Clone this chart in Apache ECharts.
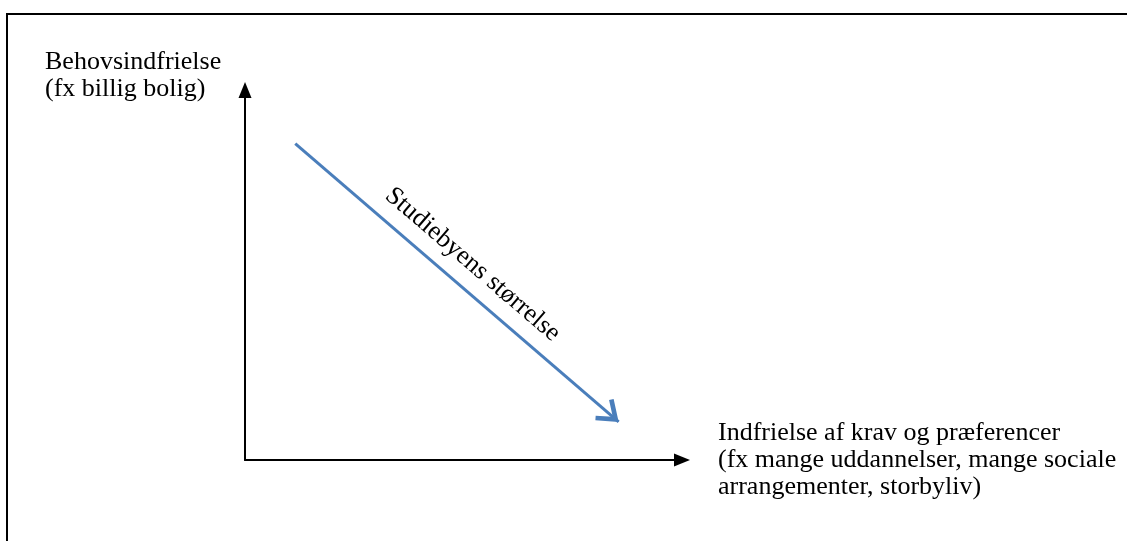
<!DOCTYPE html>
<html>
<head>
<meta charset="utf-8">
<script src="https://cdn.jsdelivr.net/npm/echarts@6/dist/echarts.min.js"></script>
<style>
html,body{margin:0;padding:0;background:#fff;}
#chart{width:1127px;height:541px;}
</style>
</head>
<body>
<div id="chart"></div>
<script>
// ---- data ----
const yAxisTitle = ['Behovsindfrielse', '(fx billig bolig)'];
const xAxisTitle = ['Indfrielse af krav og præferencer', '(fx mange uddannelser, mange sociale', 'arrangementer, storbyliv)'];
const arrowLabel = 'Studiebyens størrelse';
const arrowStart = [1.15, 8.55];
const arrowEnd = [8.55, 1.03];
const axisMin = 0;
const axisMax = 10;

// ---- styles ----
const FONT = '"Liberation Serif", "Times New Roman", serif';
const BLUE = '#4A7EBB';
const chevron = 'path://M12,0 L24,16 L20.8,18.4 L12,6.7 L3.2,18.4 L0,16 Z';

const chart = echarts.init(document.getElementById('chart'), null, {renderer: 'canvas'});

const axisCommon = {
  type: 'value',
  min: axisMin,
  max: axisMax,
  axisLine: {
    show: true,
    onZero: false,
    lineStyle: {color: '#000', width: 2},
    symbol: ['none', 'triangle'],
    symbolSize: [13, 16]
  },
  axisTick: {show: false},
  axisLabel: {show: false},
  splitLine: {show: false}
};

chart.setOption({
  animation: false,
  backgroundColor: '#fff',
  grid: {left: 245, right: 445, top: 90, bottom: 81, containLabel: false, outerBoundsMode: 'none'},
  xAxis: Object.assign({}, axisCommon, {
    name: xAxisTitle.join('\n'),
    nameLocation: 'end',
    nameGap: 36,
    nameTextStyle: {
      fontFamily: FONT, fontSize: 26, color: '#000', lineHeight: 27,
      align: 'left', verticalAlign: 'middle', padding: [0, 0, 6, 0]
    }
  }),
  yAxis: Object.assign({}, axisCommon),
  graphic: [
    {
      type: 'rect', silent: true, z: -1,
      shape: {x: 7, y: 14, width: 1300, height: 700},
      style: {fill: 'none', stroke: '#000', lineWidth: 2}
    },
    {
      type: 'text', silent: true,
      x: 45, y: 49,
      style: {
        text: yAxisTitle.join('\n'),
        font: '26px ' + FONT,
        fill: '#000',
        lineHeight: 27,
        textAlign: 'left',
        textVerticalAlign: 'top'
      }
    }
  ],
  series: [{
    type: 'line',
    data: [],
    silent: true,
    markLine: {
      silent: true,
      animation: false,
      symbol: ['none', chevron],
      symbolSize: [28, 21.5],
      symbolOffset: [0, [0, 10.7]],
      lineStyle: {color: BLUE, width: 3, type: 'solid'},
      label: {
        show: true,
        position: 'insideMiddleTop',
        formatter: arrowLabel,
        fontFamily: FONT,
        fontSize: 26,
        color: '#000',
        distance: 11
      },
      emphasis: {disabled: true},
      data: [[{coord: arrowStart}, {coord: arrowEnd}]]
    }
  }]
});
</script>
</body>
</html>
